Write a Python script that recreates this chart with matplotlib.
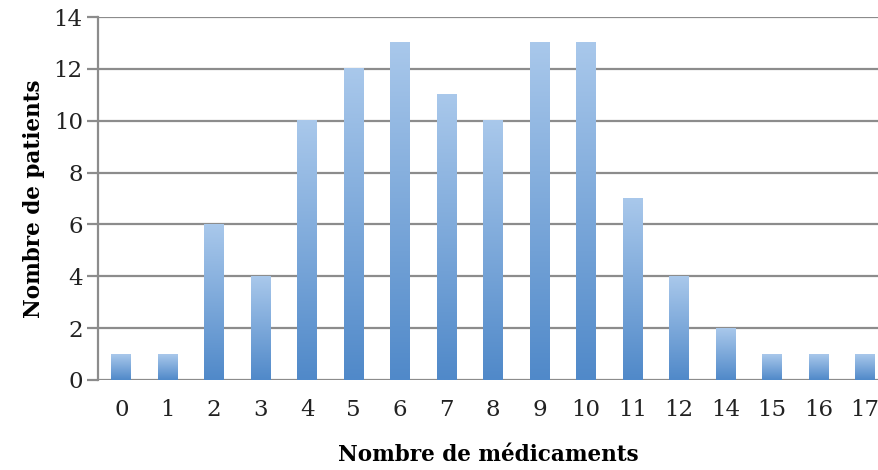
import matplotlib.pyplot as plt
import numpy as np
from matplotlib.colors import LinearSegmentedColormap

categories = ['0', '1', '2', '3', '4', '5', '6', '7', '8', '9', '10', '11',
              '12', '14', '15', '16', '17']
patients = [1, 1, 6, 4, 10, 12, 13, 11, 10, 13, 13, 7, 4, 2, 1, 1, 1]

plt.rcParams['font.family'] = ['DejaVu Serif']

fig = plt.figure(figsize=(8.79, 4.70), dpi=100)
ax = fig.add_axes([0.1115, 0.1915, 0.8885, 0.7723])

# vertical gradient, dark at bottom, light at top
grad_cmap = LinearSegmentedColormap.from_list('bar', ['#5089c9', '#a9c8eb'])
grad = np.linspace(0, 1, 256).reshape(-1, 1)

x = np.arange(len(categories))
width = 0.43
for xi, v in zip(x, patients):
    ax.imshow(grad, cmap=grad_cmap, origin='lower', aspect='auto',
              extent=(xi - width / 2, xi + width / 2, 0, v), zorder=3)

ax.set_xlim(-0.5, 16.3)
ax.set_ylim(0, 14)
ax.set_yticks(range(0, 15, 2))
ax.set_xticks(x)
ax.set_xticklabels(categories)
ax.yaxis.grid(True, color='#8c8c8c', linewidth=1.6, zorder=1)
ax.set_axisbelow(True)

for s in ['top', 'right', 'bottom']:
    ax.spines[s].set_visible(False)
ax.spines['left'].set_color('#8c8c8c')
ax.spines['left'].set_linewidth(1.6)
ax.tick_params(axis='y', length=8, width=1.6, color='#8c8c8c', labelsize=16.5,
               pad=3, labelcolor='#222222')
ax.tick_params(axis='x', length=0, labelsize=16.5, pad=14, labelcolor='#222222')

ax.set_xlabel('Nombre de médicaments', fontsize=15.5, fontweight='bold',
              labelpad=16)
ax.set_ylabel('Nombre de patients', fontsize=15.5, fontweight='bold',
              labelpad=6)

fig.savefig('out.png', dpi=100)
